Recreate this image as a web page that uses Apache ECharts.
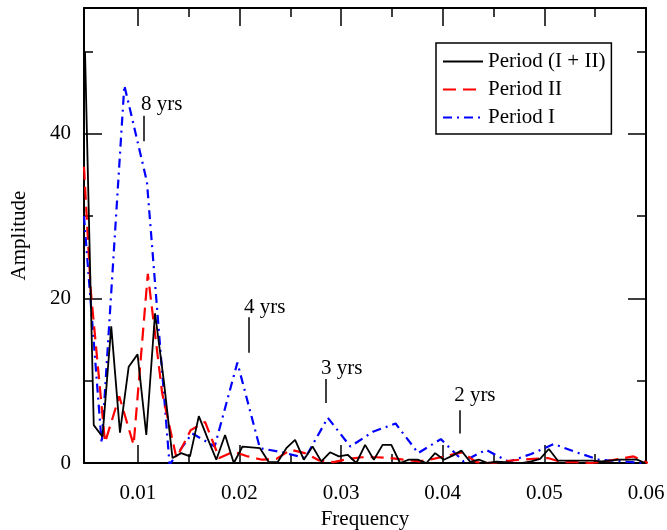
<!DOCTYPE html>
<html><head><meta charset="utf-8">
<script src="https://cdn.jsdelivr.net/npm/echarts@6/dist/echarts.min.js"></script>
<style>html,body{margin:0;padding:0;background:#fff}#c{width:667px;height:530px}</style>
</head><body><div id="c"></div>
<script>
// Period (I + II)
const freqAll = [0.00480,0.00566,0.00652,0.00738,0.00824,0.00910,0.00997,0.01083,0.01169,0.01255,
  0.01341,0.01427,0.01513,0.01600,0.01686,0.01772,0.01858,0.01944,0.02030,0.02116,
  0.02202,0.02289,0.02375,0.02461,0.02547,0.02633,0.02719,0.02805,0.02891,0.02978,
  0.03064,0.03150,0.03236,0.03322,0.03408,0.03494,0.03580,0.03667,0.03753,0.03839,
  0.03925,0.04011,0.04097,0.04183,0.04269,0.04355,0.04442,0.04528,0.04614,0.04700,
  0.04786,0.04872,0.04958,0.05044,0.05131,0.05217,0.05303,0.05389,0.05475,0.05561,
  0.05647,0.05733,0.05820,0.05906,0.05992];
const ampAll = [50,4.6,3.2,16.6,3.7,11.7,13.2,3.4,18.2,10,
  0.6,1.2,0.8,5.7,3.0,0.4,3.4,0.0,2.0,1.9,
  1.8,0.1,0.1,1.8,2.8,0.4,2.0,0.2,1.3,0.8,
  1.0,0.0,2.2,0.4,2.2,2.2,0.0,0.4,0.4,0.0,
  1.2,0.4,0.9,1.5,0.15,0.4,0.0,0.15,0.1,0.0,
  0.0,0.2,0.5,1.7,0.3,0.3,0.3,0.3,0.3,0.2,
  0.3,0.4,0.4,0.45,0.0];
// Period II
const freqII = [0.00470,0.00536,0.00677,0.00817,0.00958,0.01098,0.01239,0.01380,0.01520,0.01661,0.01801,
  0.01942,0.02082,0.02223,0.02363,0.02504,0.02644,0.02785,0.02926,0.03066,0.03207,
  0.03347,0.03488,0.03628,0.03769,0.03909,0.04050,0.04191,0.04331,0.04472,0.04612,
  0.04753,0.04893,0.05034,0.05174,0.05315,0.05456,0.05596,0.05737,0.05877,0.06018];
const ampII = [36,21,2.5,8.1,2.2,23.0,8.5,0.6,4.0,5.0,0.6,
  1.4,0.8,0.4,0.5,1.6,1.2,0.3,0.1,0.5,0.7,
  0.7,0.6,0.4,0.2,0.5,0.9,1.3,0.1,0.0,0.2,
  0.4,0.5,0.6,0.1,0.1,0.0,0.2,0.5,0.8,0.0];
// Period I
const freqI = [0.00470,0.00644,0.00867,0.01089,0.01312,0.01534,0.01756,0.01979,0.02201,0.02424,0.02646,
  0.02869,0.03091,0.03313,0.03536,0.03758,0.03981,0.04203,0.04426,0.04648,0.04871,
  0.05093,0.05315,0.05538,0.05760,0.05983];
const ampI = [30,2.4,45.9,34.2,-0.2,3.6,2.0,12.2,1.8,1.3,0.6,
  5.5,2.0,3.8,4.8,1.2,2.9,0.2,1.6,0.15,1.1,
  2.3,1.3,0.4,0.2,0.0];

const xTickValues = [0.01,0.02,0.03,0.04,0.05,0.06];
const xMinorValues = [0.015,0.025,0.035,0.045,0.055];
const yTickValues = [0,20,40];
const yMinorValues = [10,30,50];

const annFreq = [0.01061,0.02094,0.02852,0.04171];
const annLow = [39.1,13.4,7.3,3.6];
const annHigh = [42.2,17.7,10.2,6.4];
const annTextFreq = [0.01031,0.02045,0.02803,0.04112];
const annTextAmp = [43.6,18.9,11.5,8.15];
const annText = ['8 yrs','4 yrs','3 yrs','2 yrs'];

const XMIN = 0.0047, XMAX = 0.06, YMIN = 0, YMAX = 55.3;
const FONT = 'Liberation Serif';
const FS = 21;

function xAx(pos, ticks, len, labels, line) {
  return {
    type: 'value', position: pos, min: XMIN, max: XMAX,
    axisLine: {show: line, onZero: false, lineStyle: {color: '#000', width: 2}},
    axisTick: {show: true, inside: true, length: len, customValues: ticks, lineStyle: {color: '#000', width: 1.5}},
    axisLabel: labels ? {show: true, customValues: ticks, margin: 20, color: '#000', fontFamily: FONT, fontSize: FS,
      formatter: v => v.toFixed(2)} : {show: false},
    splitLine: {show: false},
    name: labels ? 'Frequency' : '', nameLocation: 'middle', nameGap: 46,
    nameTextStyle: {color: '#000', fontFamily: FONT, fontSize: FS}
  };
}
function yAx(pos, ticks, len, labels, line) {
  return {
    type: 'value', position: pos, min: YMIN, max: YMAX,
    axisLine: {show: line, onZero: false, lineStyle: {color: '#000', width: 2}},
    axisTick: {show: true, inside: true, length: len, customValues: ticks, lineStyle: {color: '#000', width: 1.5}},
    axisLabel: labels ? {show: true, customValues: ticks, margin: 13, color: '#000', fontFamily: FONT, fontSize: FS,
      formatter: v => String(v)} : {show: false},
    splitLine: {show: false},
    name: labels ? 'Amplitude' : '', nameLocation: 'middle', nameGap: 54,
    nameTextStyle: {color: '#000', fontFamily: FONT, fontSize: FS}
  };
}

const pairs = (xs, ys) => xs.map((x, i) => [x, ys[i]]);

const chart = echarts.init(document.getElementById('c'), null, {renderer: 'canvas'});
chart.setOption({
  animation: false,
  backgroundColor: '#fff',
  grid: {left: 84, right: 21, top: 8, bottom: 67, containLabel: false, outerBoundsMode: 'none'},
  xAxis: [
    xAx('bottom', xTickValues, 18, true, true),
    xAx('bottom', xMinorValues, 9, false, false),
    xAx('top', xTickValues, 18, false, true),
    xAx('top', xMinorValues, 9, false, false)
  ],
  yAxis: [
    yAx('left', yTickValues, 18, true, true),
    yAx('left', yMinorValues, 9, false, false),
    yAx('right', yTickValues, 18, false, true),
    yAx('right', yMinorValues, 9, false, false)
  ],
  legend: {
    orient: 'vertical', left: 436, top: 43,
    padding: [8, 6, 6, 6], itemGap: 7, itemWidth: 40, itemHeight: 14,
    borderColor: '#000', borderWidth: 1.5, backgroundColor: '#fff',
    itemStyle: {opacity: 0, borderWidth: 0},
    textStyle: {color: '#000', fontFamily: FONT, fontSize: FS},
    data: ['Period (I + II)', 'Period II', 'Period I']
  },
  series: [
    {
      type: 'line', name: 'Period I', data: pairs(freqI, ampI),
      symbol: 'none', showSymbol: false, clip: true, z: 2,
      lineStyle: {color: '#0000ff', width: 2.2, type: [9, 5, 2, 5]},
      itemStyle: {color: '#0000ff'}
    },
    {
      type: 'line', name: 'Period II', data: pairs(freqII, ampII),
      symbol: 'none', showSymbol: false, clip: true, z: 3,
      lineStyle: {color: '#ff0000', width: 2.2, type: [13, 7]},
      itemStyle: {color: '#ff0000'}
    },
    {
      type: 'line', name: 'Period (I + II)', data: pairs(freqAll, ampAll),
      symbol: 'none', showSymbol: false, clip: true, z: 4,
      lineStyle: {color: '#000000', width: 1.8},
      itemStyle: {color: '#000000'}
    },
    {
      type: 'scatter', name: 'annotations', silent: true, z: 5,
      data: annTextFreq.map((f, i) => [f, annTextAmp[i], annText[i]]),
      symbolSize: 0, itemStyle: {color: '#000', opacity: 1},
      label: {show: true, position: [0, 0], align: 'left', verticalAlign: 'middle', opacity: 1,
        formatter: p => p.data[2], color: '#000', fontFamily: FONT, fontSize: FS},
      markLine: {
        silent: true, symbol: ['none', 'none'], animation: false,
        lineStyle: {color: '#000', width: 1.5, type: 'solid', opacity: 1},
        label: {show: false},
        data: annFreq.map((f, i) => [{coord: [f, annLow[i]]}, {coord: [f, annHigh[i]]}])
      }
    }
  ]
});
</script>
</body></html>
